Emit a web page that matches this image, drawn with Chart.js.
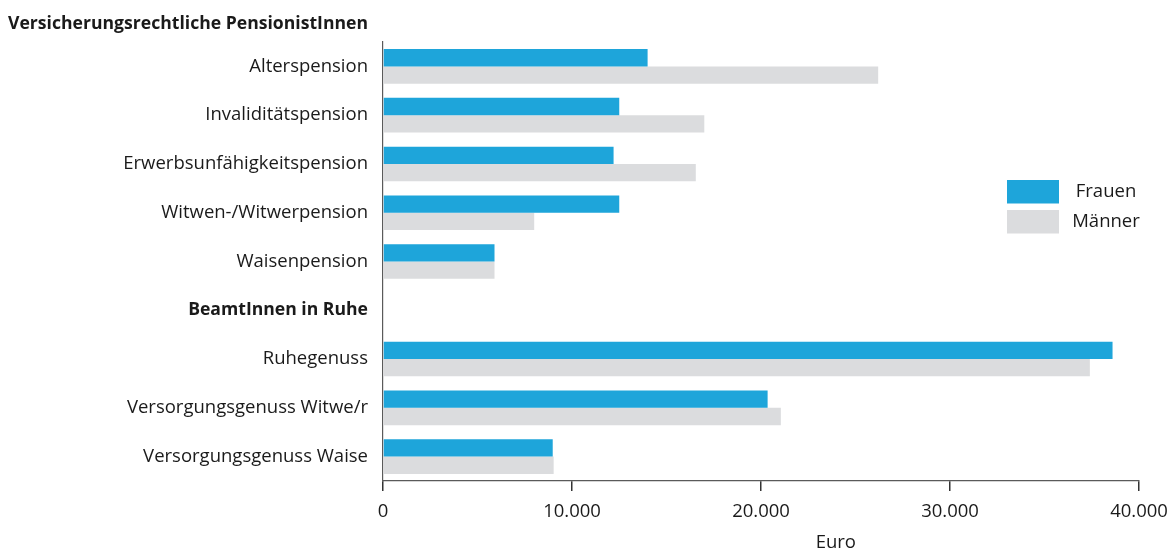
<!DOCTYPE html>
<html>
<head>
<meta charset="utf-8">
<script src="https://cdn.jsdelivr.net/npm/chart.js@4/dist/chart.umd.min.js"></script>
<style>
  html, body { margin: 0; padding: 0; background: #ffffff; }
  #wrap { width: 1171px; height: 549px; }
</style>
</head>
<body>
<div id="wrap"><canvas id="c" width="1171" height="549"></canvas></div>
<script>
// ---- data ----
const groupTitle = 'Versicherungsrechtliche PensionistInnen';
const categories = [
  'Alterspension',
  'Invaliditätspension',
  'Erwerbsunfähigkeitspension',
  'Witwen-/Witwerpension',
  'Waisenpension',
  'BeamtInnen in Ruhe',
  'Ruhegenuss',
  'Versorgungsgenuss Witwe/r',
  'Versorgungsgenuss Waise'
];
const boldCategories = ['BeamtInnen in Ruhe'];
const frauen = [14000, 12500, 12200, 12500, 5900, null, 38600, 20350, 8980];
const maenner = [26200, 17000, 16550, 8000, 5900, null, 37400, 21050, 9030];
const seriesNames = ['Frauen', 'Männer'];
const xTickValues = [0, 10000, 20000, 30000, 40000];
const xTickLabels = ['0', '10.000', '20.000', '30.000', '40.000'];
const xAxisTitle = 'Euro';

// ---- style ----
const FONT = '"Open Sans", "Noto Sans", sans-serif';
const FS = 18.5;
const TEXT = '#1a1a1a';
const BLUE = '#1ea5da';
const GREY = '#dbdcde';
const AXIS = '#5a5a5a';

const extras = {
  id: 'extras',
  afterDraw(chart) {
    const ctx = chart.ctx;
    const ca = chart.chartArea;
    const y = chart.scales.y;
    ctx.save();
    ctx.fillStyle = TEXT;
    // group header above first category (right-aligned with tick labels)
    ctx.font = 'bold ' + FS + 'px ' + FONT;
    ctx.textAlign = 'right';
    ctx.textBaseline = 'middle';
    const band = (ca.bottom - ca.top) / categories.length;
    ctx.fillText(groupTitle, y.right - 15, y.getPixelForValue(0) - band * 0.88, 360);
    // x axis title
    ctx.font = FS + 'px ' + FONT;
    ctx.textAlign = 'center';
    ctx.fillText(xAxisTitle, ca.left + (ca.right - ca.left) * 0.599, 542.5);
    // legend
    const colors = [BLUE, GREY];
    const bx = ca.right - 132, bw = 52, bh = 23.5;
    const tops = [180, 210];
    for (let i = 0; i < seriesNames.length; i++) {
      ctx.fillStyle = colors[i];
      ctx.fillRect(bx, tops[i], bw, bh);
      ctx.fillStyle = TEXT;
      ctx.textAlign = 'center';
      ctx.fillText(seriesNames[i], bx + 99, tops[i] + bh / 2);
    }
    ctx.restore();
  }
};

new Chart(document.getElementById('c'), {
  type: 'bar',
  data: {
    labels: categories,
    datasets: [
      { label: seriesNames[0], data: frauen, backgroundColor: BLUE, borderWidth: 0,
        categoryPercentage: 0.71, barPercentage: 1.0 },
      { label: seriesNames[1], data: maenner, backgroundColor: GREY, borderWidth: 0,
        categoryPercentage: 0.71, barPercentage: 1.0 }
    ]
  },
  options: {
    indexAxis: 'y',
    responsive: false,
    animation: false,
    layout: { padding: { top: 42, right: 32, left: 0, bottom: 0 } },
    plugins: {
      legend: { display: false },
      tooltip: { enabled: false }
    },
    scales: {
      x: {
        type: 'linear',
        min: 0, max: 40000,
        afterBuildTicks(scale) { scale.ticks = xTickValues.map(v => ({ value: v })); },
        afterFit(scale) { scale.height = 68; scale.paddingLeft = 0; scale.paddingRight = 0; },
        grid: { display: true, drawOnChartArea: false, drawTicks: true, tickLength: 10,
                color: '#333', lineWidth: 1.5 },
        border: { display: true, color: AXIS, width: 1.2 },
        ticks: {
          padding: 10,
          color: TEXT,
          font: { family: FONT, size: FS },
          maxRotation: 0,
          callback(value) { const i = xTickValues.indexOf(value); return i >= 0 ? xTickLabels[i] : ''; }
        }
      },
      y: {
        type: 'category',
        afterFit(scale) { scale.width = 383; },
        grid: { display: false, drawTicks: false },
        border: { display: true, color: AXIS, width: 1.2 },
        ticks: {
          padding: 15,
          color: TEXT,
          font(ctx) {
            const lbl = categories[ctx.index];
            const b = boldCategories.includes(lbl);
            return { family: FONT, size: b ? 17.6 : FS, weight: b ? 'bold' : 'normal' };
          }
        }
      }
    }
  },
  plugins: [extras]
});
</script>
</body>
</html>
